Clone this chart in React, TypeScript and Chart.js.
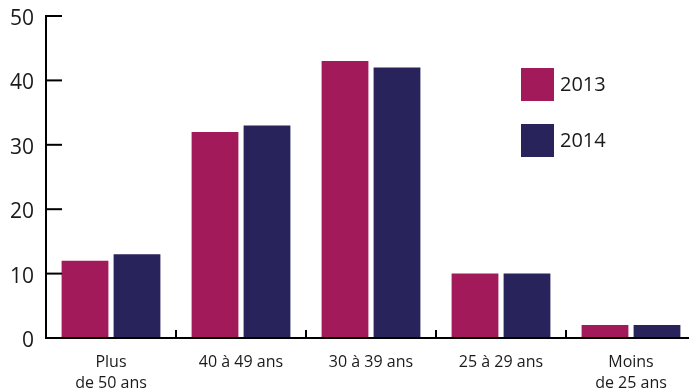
import React, { useEffect, useRef } from "react";
import { Chart, registerables } from "chart.js";

Chart.register(...registerables);

const categories: string[][] = [
  ["Plus", "de 50 ans"],
  ["40 à 49 ans"],
  ["30 à 39 ans"],
  ["25 à 29 ans"],
  ["Moins", "de 25 ans"],
];
const series2013: number[] = [12, 32, 43, 10, 2];
const series2014: number[] = [13, 33, 42, 10, 2];
const yTicks: number[] = [0, 10, 20, 30, 40, 50];
const color2013 = "#A31A5B";
const color2014 = "#28235A";
const FONT = "'Open Sans', 'Noto Sans', sans-serif";

const axesPlugin = {
  id: "customAxes",
  afterDraw(chart: any) {
    const ctx = chart.ctx;
    const x = chart.scales.x;
    const y = chart.scales.y;
    const area = chart.chartArea;
    ctx.save();
    ctx.strokeStyle = "#000";
    ctx.lineWidth = 2;
    ctx.lineCap = "butt";
    ctx.beginPath();
    ctx.moveTo(area.left, y.getPixelForValue(50) - 1);
    ctx.lineTo(area.left, area.bottom + 1);
    ctx.stroke();
    ctx.beginPath();
    ctx.moveTo(area.left - 1, area.bottom);
    ctx.lineTo(area.right, area.bottom);
    ctx.stroke();
    yTicks.forEach((v) => {
      const py = y.getPixelForValue(v);
      ctx.beginPath();
      ctx.moveTo(area.left, py);
      ctx.lineTo(area.left + 16, py);
      ctx.stroke();
    });
    for (let i = 1; i < categories.length; i++) {
      const px = (x.getPixelForValue(i - 1) + x.getPixelForValue(i)) / 2;
      ctx.beginPath();
      ctx.moveTo(px, area.bottom);
      ctx.lineTo(px, area.bottom - 8);
      ctx.stroke();
    }
    ctx.restore();
  },
};

const legendPlugin = {
  id: "customLegend",
  afterDraw(chart: any) {
    const ctx = chart.ctx;
    ctx.save();
    const left = 521;
    const top0 = 68;
    const step = 56;
    const size = 33;
    chart.data.datasets.forEach((ds: any, i: number) => {
      const top = top0 + i * step;
      ctx.fillStyle = ds.backgroundColor;
      ctx.fillRect(left, top, size, size);
      ctx.fillStyle = "#1a1a1a";
      ctx.font = `20px ${FONT}`;
      ctx.textBaseline = "middle";
      ctx.textAlign = "left";
      ctx.fillText(ds.label, left + size + 6, top + size / 2 + 1);
    });
    ctx.restore();
  },
};

export default function App() {
  const ref = useRef<HTMLCanvasElement | null>(null);
  useEffect(() => {
    if (!ref.current) return;
    const chart = new Chart(ref.current, {
      type: "bar",
      data: {
        labels: categories,
        datasets: [
          { label: "2013", data: series2013, backgroundColor: color2013 },
          { label: "2014", data: series2014, backgroundColor: color2014 },
        ],
      },
      options: {
        animation: false,
        responsive: false,
        devicePixelRatio: 1,
        layout: { padding: { top: 16, right: 4, left: 0, bottom: 0 } },
        plugins: { legend: { display: false }, tooltip: { enabled: false } },
        scales: {
          x: {
            offset: true,
            grid: { display: false, drawTicks: false },
            border: { display: false },
            ticks: {
              color: "#1a1a1a",
              padding: 14,
              maxRotation: 0,
              autoSkip: false,
              font: { family: FONT, size: 16, lineHeight: 1.3 },
            },
            afterFit: (s: any) => {
              s.height = 51;
              s.paddingLeft = 0;
              s.paddingRight = 0;
            },
          },
          y: {
            min: 0,
            max: 50,
            grid: { display: false, drawTicks: false },
            border: { display: false },
            ticks: {
              stepSize: 10,
              color: "#1a1a1a",
              padding: 12,
              labelOffset: 3,
              font: { family: FONT, size: 21 },
            },
            afterFit: (s: any) => {
              s.width = 46;
              s.paddingTop = 0;
              s.paddingBottom = 0;
            },
          },
        },
      },
      plugins: [axesPlugin, legendPlugin],
    });
    return () => chart.destroy();
  }, []);
  return (
    <div
      style={{
        position: "fixed",
        left: 0,
        top: 0,
        width: 689,
        height: 389,
        overflow: "hidden",
        background: "#fff",
      }}
    >
      <canvas ref={ref} width={700} height={389} style={{ width: 700, height: 389 }} />
    </div>
  );
}
